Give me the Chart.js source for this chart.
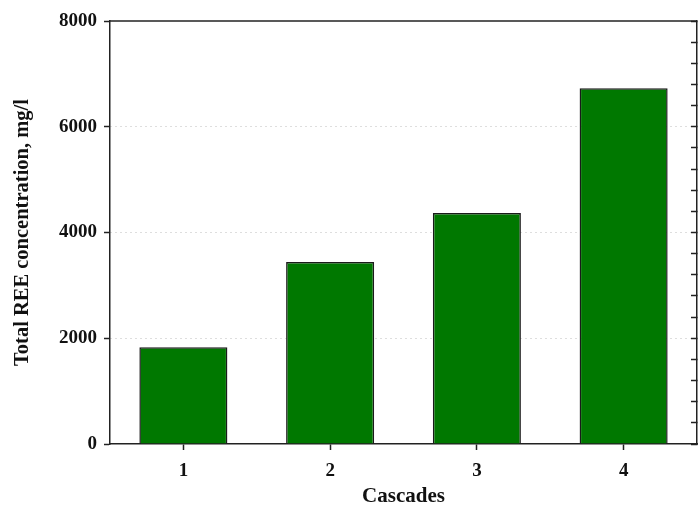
<!DOCTYPE html>
<html>
<head>
<meta charset="utf-8">
<script src="https://cdn.jsdelivr.net/npm/chart.js@4.4.1/dist/chart.umd.min.js"></script>
<style>
  html, body { margin: 0; padding: 0; background: #fff; }
  #wrap { width: 698px; height: 509px; position: relative; }
</style>
</head>
<body>
<div id="wrap"><canvas id="reeChart"></canvas></div>
<script>
// ===========================
// Data
// ===========================
const cascades = ['1', '2', '3', '4'];
const reeConcentration = [1830, 3440, 4370, 6730];
const yTickStep = 2000;
const yMinorStep = 400;
const yMax = 8000;

const serif = "'Liberation Serif', 'Times New Roman', serif";

// frame along the top edge of the plot area
const frameTop = {
    id: 'frameTop',
    afterDatasetsDraw(chart) {
        const { ctx, chartArea } = chart;
        ctx.save();
        ctx.strokeStyle = '#222';
        ctx.lineWidth = 1.5;
        ctx.beginPath();
        ctx.moveTo(chartArea.left, chartArea.top);
        ctx.lineTo(chartArea.right, chartArea.top);
        ctx.stroke();
        ctx.restore();
    }
};

const ctx = document.getElementById('reeChart');

new Chart(ctx, {
    type: 'bar',
    data: {
        labels: cascades,
        datasets: [{
            label: 'Total REE concentration',
            data: reeConcentration,
            backgroundColor: '#007800',
            borderColor: '#1a1a1a',
            borderWidth: 1.5,
            barPercentage: 0.6,
            categoryPercentage: 1.0
        }]
    },
    options: {
        responsive: true,
        maintainAspectRatio: false,
        animation: false,
        layout: { padding: { top: 21, right: 0, left: 0, bottom: 0 } },
        plugins: {
            legend: { display: false },
            tooltip: { enabled: false }
        },
        scales: {
            x: {
                grid: {
                    offset: false,
                    drawOnChartArea: false,
                    tickLength: 6,
                    tickColor: '#222',
                    tickWidth: 1.5
                },
                border: { color: '#222', width: 1.5 },
                ticks: {
                    color: '#111',
                    padding: 10,
                    font: { family: serif, size: 19, weight: 'bold' }
                },
                title: {
                    display: true,
                    text: 'Cascades',
                    color: '#111',
                    padding: { top: 8, bottom: 0 },
                    font: { family: serif, size: 21, weight: 'bold' }
                },
                afterFit(scale) { scale.height = 65; }
            },
            y: {
                min: 0,
                max: yMax,
                ticks: {
                    stepSize: yTickStep,
                    color: '#111',
                    padding: 7,
                    callback: v => String(v),
                    font: { family: serif, size: 19, weight: 'bold' }
                },
                grid: {
                    color: c => (c.tick && (c.tick.value === 0 || c.tick.value === yMax)) ? 'rgba(0,0,0,0)' : '#bdbdbd',
                    lineWidth: 1,
                    tickLength: 6,
                    tickColor: '#222',
                    tickWidth: 1.5
                },
                border: { color: '#222', width: 1.5, dash: [1, 4] },
                title: {
                    display: true,
                    text: 'Total REE concentration, mg/l',
                    color: '#111',
                    padding: { top: 10, bottom: 0 },
                    font: { family: serif, size: 20.5, weight: 'bold' }
                },
                afterFit(scale) { scale.width = 110; }
            },
            y2: {
                position: 'right',
                min: 0,
                max: yMax,
                ticks: { display: false, stepSize: yMinorStep },
                grid: {
                    drawOnChartArea: false,
                    tickLength: -6,
                    tickColor: '#222',
                    tickWidth: 1.5
                },
                border: { color: '#222', width: 1.5 },
                afterFit(scale) { scale.width = 1; }
            }
        }
    },
    plugins: [frameTop]
});
</script>
</body>
</html>
